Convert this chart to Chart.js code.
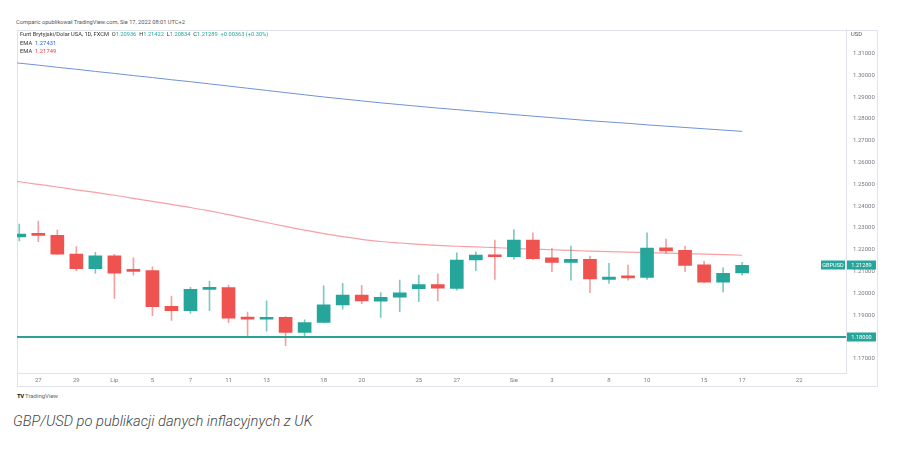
<!DOCTYPE html>
<html><head><meta charset="utf-8">
<script src="https://cdn.jsdelivr.net/npm/chart.js@4.4.0/dist/chart.umd.min.js"></script>
<style>
html,body{margin:0;padding:0;background:#fff;}
body{width:902px;height:450px;position:relative;overflow:hidden;font-family:Roboto,"Open Sans",sans-serif;}
.abs{position:absolute;white-space:nowrap;line-height:1;}
#box{position:absolute;left:17px;top:30px;width:861px;height:357px;box-sizing:border-box;border:1px solid #e0e3eb;}
#wrap{position:absolute;left:17px;top:26px;width:860px;height:361px;}
.g{color:#26a69a}
</style></head><body>
<div class="abs" style="left:16px;top:20px;font-size:5.7px;color:#555;">Comparic opublikował TradingView.com, Sie 17, 2022 08:01 UTC+2</div>
<div id="box"></div>
<div id="wrap"><canvas id="c" width="860" height="361"></canvas></div>
<div class="abs" id="leg1" style="left:20px;top:32px;font-size:5.7px;color:#333;"></div>
<div class="abs" style="left:20px;top:40.5px;font-size:5.8px;color:#333;">EMA&nbsp; <span id="emaB" style="color:#2962ff"></span></div>
<div class="abs" style="left:20px;top:49px;font-size:5.8px;color:#333;">EMA&nbsp; <span id="emaR" style="color:#f23645"></span></div>
<div class="abs" style="left:851px;top:32px;font-size:5.8px;color:#555;">USD</div>
<div class="abs" style="left:17px;top:393px;font-size:6px;color:#666;"><b style="color:#131722;letter-spacing:-0.5px">TV</b> TradingView</div>
<div class="abs" style="left:13px;top:414px;font-size:14.7px;color:#444;font-style:italic;font-weight:300;">GBP/USD po publikacji danych inflacyjnych z UK</div>
<script>
// trading days, index 0 = Jun 24 2022
const dates = ['Jun 24','Jun 27','Jun 28','Jun 29','Jun 30','Jul 1','Jul 4','Jul 5','Jul 6','Jul 7','Jul 8','Jul 11','Jul 12','Jul 13','Jul 14','Jul 15','Jul 18','Jul 19','Jul 20','Jul 21','Jul 22','Jul 25','Jul 26','Jul 27','Jul 28','Jul 29','Aug 1','Aug 2','Aug 3','Aug 4','Aug 5','Aug 8','Aug 9','Aug 10','Aug 11','Aug 12','Aug 15','Aug 16','Aug 17'];
const opens  = [1.2259,1.2272,1.2266,1.2180,1.2113,1.2172,1.2105,1.2104,1.1941,1.1920,1.2018,1.2026,1.1889,1.1881,1.1890,1.1821,1.1867,1.1947,1.1992,1.1964,1.1982,1.2021,1.2040,1.2023,1.2153,1.2177,1.2168,1.2244,1.2163,1.2142,1.2156,1.2064,1.2075,1.2073,1.2209,1.2197,1.2131,1.2051,1.20936];
const highs  = [1.2318,1.2331,1.2290,1.2214,1.2188,1.2179,1.2163,1.2122,1.1988,1.2028,1.2056,1.2038,1.1914,1.1966,1.1893,1.1878,1.2034,1.2046,1.2037,1.2003,1.2061,1.2084,1.2089,1.2186,1.2191,1.2244,1.2293,1.2278,1.2206,1.2217,1.2171,1.2138,1.2130,1.2278,1.2249,1.2217,1.2147,1.2117,1.21422];
const lows   = [1.2240,1.2237,1.2178,1.2104,1.2092,1.1977,1.2083,1.1898,1.1876,1.1908,1.1920,1.1866,1.1805,1.1827,1.1760,1.1801,1.1864,1.1927,1.1953,1.1890,1.1916,1.1962,1.1965,1.2015,1.2104,1.2064,1.2156,1.2156,1.2099,1.2061,1.2003,1.2046,1.2061,1.2064,1.2183,1.2099,1.2049,1.2007,1.20834];
const closes = [1.2272,1.2266,1.2180,1.2113,1.2172,1.2093,1.2101,1.1939,1.1920,1.2018,1.2026,1.1886,1.1882,1.1890,1.1821,1.1866,1.1947,1.1992,1.1965,1.1982,1.2002,1.2040,1.2024,1.2153,1.2176,1.2168,1.2244,1.2159,1.2142,1.2156,1.2066,1.2075,1.2071,1.2208,1.2195,1.2128,1.2051,1.2092,1.21289];
// EMA values, first value is the day before Jun 24 (index -1)
const emaBlue = [1.3065,1.3056,1.3047,1.3037,1.3028,1.3018,1.3009,1.2999,1.2990,1.2980,1.2971,1.2961,1.2951,1.2941,1.2931,1.2921,1.2911,1.2901,1.2892,1.2883,1.2874,1.2866,1.2858,1.2850,1.2843,1.2835,1.2828,1.2820,1.2813,1.2806,1.2799,1.2792,1.2786,1.2780,1.2773,1.2767,1.2761,1.2755,1.2749,1.27431];
const emaRed  = [1.2526,1.2512,1.2500,1.2488,1.2475,1.2463,1.2450,1.2436,1.2422,1.2408,1.2394,1.2378,1.2361,1.2343,1.2325,1.2307,1.2290,1.2274,1.2260,1.2248,1.2238,1.2231,1.2225,1.2220,1.2216,1.2213,1.2210,1.2206,1.2203,1.2200,1.2197,1.2194,1.2191,1.2189,1.2187,1.2185,1.2182,1.2180,1.2178,1.21749];
const levelLine = 1.18;
const xTickIdx    = [1,3,5,7,9,11,13,16,18,21,23,26,28,31,33,36,38,41];
const xTickLabels = ['27','29','Lip','5','7','11','13','18','20','25','27','Sie','3','8','10','15','17','22'];
const yTicks = [1.17,1.18,1.19,1.20,1.21,1.22,1.23,1.24,1.25,1.26,1.27,1.28,1.29,1.30,1.31];

const GREEN='#26a69a', RED='#ef5350';
const n = dates.length;
const fmt = v => v.toFixed(5);
document.getElementById('leg1').innerHTML =
  'Funt Brytyjski/Dolar USA, 1D, FXCM&nbsp; O<span class="g">'+fmt(opens[n-1])+'</span>&nbsp; H<span class="g">'+fmt(highs[n-1])+
  '</span>&nbsp; L<span class="g">'+fmt(lows[n-1])+'</span>&nbsp; C<span class="g">'+fmt(closes[n-1])+'</span>&nbsp; <span class="g">+0.00363 (+0.30%)</span>';
document.getElementById('emaB').textContent = fmt(emaBlue[emaBlue.length-1]);
document.getElementById('emaR').textContent = fmt(emaRed[emaRed.length-1]);

const up = dates.map((d,i)=>closes[i]>=opens[i]);
const bodies = dates.map((d,i)=>({x:i,y:[opens[i],closes[i]]}));
const wicks  = dates.map((d,i)=>({x:i,y:[lows[i],highs[i]]}));
const blue = emaBlue.map((v,i)=>({x:i-1,y:v}));
const red  = emaRed.map((v,i)=>({x:i-1,y:v}));

const FONT = {family:'Roboto, "Open Sans", sans-serif', size:6};

const axisLabels = {
  id:'axisLabels',
  afterDraw(chart){
    const {ctx, scales:{y}, chartArea} = chart;
    ctx.save();
    ctx.font = '5.6px Roboto, sans-serif';
    ctx.textBaseline = 'middle';
    const box = (val, text, x0, w) => {
      const py = Math.round(y.getPixelForValue(val));
      ctx.fillStyle = GREEN;
      ctx.fillRect(x0, py-4.5, w, 9);
      ctx.fillStyle = '#fff';
      ctx.textAlign = 'center';
      ctx.fillText(text, x0 + w/2, py+0.5);
    };
    box(levelLine, fmt(levelLine), chartArea.right+1, 29);
    box(closes[n-1], fmt(closes[n-1]), chartArea.right+1, 29);
    box(closes[n-1], 'GBPUSD', chartArea.right-25, 24);
    ctx.restore();
  }
};

new Chart(document.getElementById('c'), {
  data:{datasets:[
    {type:'line', data:[{x:-2,y:levelLine},{x:50,y:levelLine}], borderColor:'#2aa192', borderWidth:2, pointRadius:0},
    {type:'bar', data:bodies, grouped:false, barThickness:13, minBarLength:2,
      backgroundColor: up.map(u=>u?GREEN:RED), borderWidth:0},
    {type:'bar', data:wicks, grouped:false, barThickness:1,
      backgroundColor: up.map(u=>u?'rgba(38,166,154,0.6)':'rgba(239,83,80,0.55)'), borderWidth:0},
    {type:'line', data:blue, borderColor:'#6f93d6', borderWidth:1, pointRadius:0, tension:0},
    {type:'line', data:red, borderColor:'#f6a0a5', borderWidth:1.2, pointRadius:0, tension:0.3}
  ]},
  options:{
    responsive:false, animation:false, devicePixelRatio:1,
    layout:{padding:0},
    plugins:{legend:{display:false}, tooltip:{enabled:false}},
    scales:{
      x:{type:'linear', min:-0.12, max:43.46, offset:false,
        grid:{display:false, drawTicks:false, tickLength:0}, border:{display:true,color:'#e0e3eb'},
        ticks:{font:FONT, color:'#787b86', padding:4, autoSkip:false, maxRotation:0,
          callback:(v)=>{const k=xTickIdx.indexOf(v); return k>=0?xTickLabels[k]:'';}},
        afterBuildTicks:s=>{s.ticks = xTickIdx.map(v=>({value:v}));},
        afterFit:s=>{s.height=14;}
      },
      y:{type:'linear', position:'right', min:1.16346, max:1.3210,
        grid:{display:true, drawOnChartArea:false, drawTicks:true, tickLength:7, color:'rgba(0,0,0,0)'},
        border:{display:true,color:'#e0e3eb'},
        ticks:{font:FONT, color:'#787b86', padding:0, callback:v=>Number(v).toFixed(5)},
        afterBuildTicks:s=>{s.ticks = yTicks.map(v=>({value:v}));},
        afterFit:s=>{s.width=31;}
      }
    }
  },
  plugins:[axisLabels]
});
</script>
</body></html>
